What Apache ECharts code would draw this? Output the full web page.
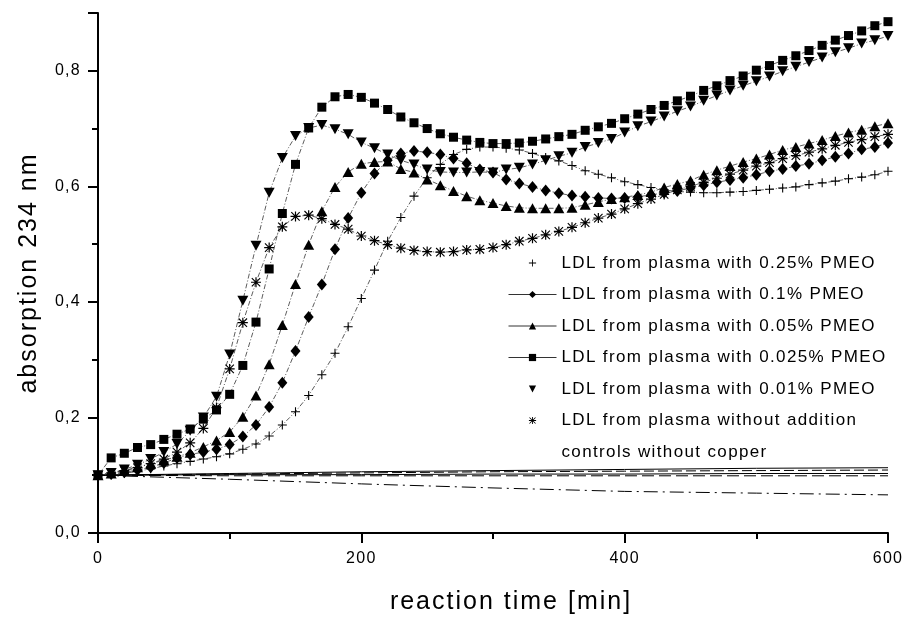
<!DOCTYPE html>
<html>
<head>
<meta charset="utf-8">
<style>html,body{margin:0;padding:0;background:#fff;}#chart{width:913px;height:621px;}</style>
<script src="https://cdn.jsdelivr.net/npm/echarts@6/dist/echarts.min.js"></script>
</head>
<body>
<div id="chart"></div>
<script>
// reaction time [min], one reading every 10 min
var time = [0, 10, 20, 30, 40, 50, 60, 70, 80, 90, 100, 110, 120, 130, 140, 150, 160, 170, 180, 190,
  200, 210, 220, 230, 240, 250, 260, 270, 280, 290, 300, 310, 320, 330, 340, 350, 360, 370, 380, 390,
  400, 410, 420, 430, 440, 450, 460, 470, 480, 490, 500, 510, 520, 530, 540, 550, 560, 570, 580, 590, 600];

var pmeo025 = [0.100, 0.101, 0.103, 0.107, 0.111, 0.116, 0.120, 0.124, 0.128, 0.132, 0.137, 0.145, 0.154, 0.168, 0.187, 0.210, 0.238, 0.274, 0.311, 0.357,
  0.406, 0.455, 0.505, 0.546, 0.583, 0.615, 0.638, 0.655, 0.664, 0.668, 0.668, 0.666, 0.663, 0.657, 0.650, 0.644, 0.636, 0.627, 0.621, 0.615,
  0.608, 0.603, 0.598, 0.594, 0.591, 0.590, 0.589, 0.589, 0.590, 0.591, 0.593, 0.595, 0.597, 0.599, 0.603, 0.606, 0.609, 0.613, 0.616, 0.620, 0.626];

var pmeo01 = [0.100, 0.102, 0.105, 0.109, 0.114, 0.121, 0.130, 0.136, 0.140, 0.145, 0.153, 0.167, 0.187, 0.218, 0.260, 0.315, 0.374, 0.430, 0.491, 0.545,
  0.589, 0.622, 0.645, 0.657, 0.661, 0.659, 0.655, 0.648, 0.640, 0.629, 0.624, 0.612, 0.605, 0.599, 0.593, 0.588, 0.584, 0.582, 0.580, 0.579,
  0.580, 0.582, 0.585, 0.589, 0.592, 0.597, 0.602, 0.607, 0.611, 0.615, 0.620, 0.626, 0.630, 0.635, 0.639, 0.645, 0.651, 0.657, 0.664, 0.668, 0.675];

var pmeo005 = [0.100, 0.103, 0.108, 0.114, 0.120, 0.126, 0.132, 0.139, 0.149, 0.160, 0.175, 0.201, 0.238, 0.292, 0.360, 0.431, 0.499, 0.557, 0.599, 0.625,
  0.639, 0.642, 0.643, 0.630, 0.624, 0.612, 0.602, 0.592, 0.583, 0.576, 0.571, 0.566, 0.563, 0.562, 0.562, 0.562, 0.563, 0.568, 0.573, 0.578,
  0.581, 0.585, 0.590, 0.598, 0.604, 0.610, 0.620, 0.628, 0.635, 0.642, 0.648, 0.655, 0.663, 0.668, 0.674, 0.680, 0.687, 0.693, 0.698, 0.704, 0.709];

var pmeo0025 = [0.100, 0.130, 0.138, 0.148, 0.153, 0.162, 0.171, 0.180, 0.197, 0.213, 0.240, 0.290, 0.365, 0.457, 0.553, 0.638, 0.701, 0.737, 0.755, 0.759,
  0.754, 0.744, 0.733, 0.720, 0.710, 0.700, 0.691, 0.685, 0.680, 0.676, 0.674, 0.674, 0.675, 0.678, 0.682, 0.686, 0.690, 0.697, 0.703, 0.709,
  0.717, 0.725, 0.733, 0.740, 0.748, 0.756, 0.766, 0.774, 0.783, 0.791, 0.801, 0.809, 0.818, 0.826, 0.835, 0.844, 0.853, 0.861, 0.869, 0.878, 0.885];

var pmeo001 = [0.100, 0.104, 0.110, 0.118, 0.128, 0.140, 0.154, 0.177, 0.200, 0.236, 0.309, 0.402, 0.497, 0.589, 0.649, 0.687, 0.701, 0.706, 0.699, 0.690,
  0.676, 0.666, 0.655, 0.645, 0.638, 0.629, 0.625, 0.624, 0.624, 0.625, 0.624, 0.629, 0.632, 0.638, 0.645, 0.652, 0.658, 0.668, 0.675, 0.682,
  0.693, 0.704, 0.712, 0.721, 0.730, 0.738, 0.748, 0.757, 0.766, 0.774, 0.782, 0.790, 0.799, 0.807, 0.815, 0.823, 0.832, 0.839, 0.847, 0.853, 0.860];

var noAddition = [0.100, 0.104, 0.108, 0.113, 0.120, 0.128, 0.140, 0.156, 0.181, 0.217, 0.284, 0.364, 0.434, 0.494, 0.530, 0.548, 0.550, 0.544, 0.534, 0.526,
  0.514, 0.506, 0.499, 0.493, 0.489, 0.487, 0.486, 0.487, 0.490, 0.491, 0.494, 0.499, 0.505, 0.510, 0.516, 0.522, 0.529, 0.537, 0.545, 0.552,
  0.561, 0.570, 0.578, 0.586, 0.594, 0.600, 0.607, 0.614, 0.621, 0.628, 0.635, 0.641, 0.648, 0.653, 0.659, 0.665, 0.671, 0.676, 0.681, 0.686, 0.690];

// controls without copper
var ctrlTime = [0, 100, 200, 300, 400, 500, 600];
var ctrlA = [0.100, 0.103, 0.106, 0.108, 0.110, 0.112, 0.113];
var ctrlB = [0.100, 0.102, 0.104, 0.106, 0.107, 0.108, 0.109];
var ctrlC = [0.100, 0.101, 0.101, 0.102, 0.102, 0.103, 0.103];
var ctrlD = [0.100, 0.099, 0.099, 0.099, 0.099, 0.099, 0.099];
var ctrlE = [0.100, 0.093, 0.085, 0.078, 0.072, 0.069, 0.066];

var names = [
  'LDL from plasma with 0.25% PMEO',
  'LDL from plasma with 0.1% PMEO',
  'LDL from plasma with 0.05% PMEO',
  'LDL from plasma with 0.025% PMEO',
  'LDL from plasma with 0.01% PMEO',
  'LDL from plasma without addition',
  'controls without copper'
];

// the original was exported with a little letter tracking; canvas can do that natively
(function () {
  var proto = CanvasRenderingContext2D.prototype;
  ['fillText', 'strokeText', 'measureText'].forEach(function (fn) {
    var orig = proto[fn];
    proto[fn] = function () {
      var m = /(\d+(?:\.\d+)?)px/.exec(this.font);
      if (m && 'letterSpacing' in this) this.letterSpacing = (parseFloat(m[1]) * 0.08).toFixed(2) + 'px';
      return orig.apply(this, arguments);
    };
  });
})();

var FONT = 'Liberation Sans';
var plusPath = 'path://M4.4 0H5.6V10H4.4ZM0 4.4H10V5.6H0Z';
var starPath = 'path://M4.4 0H5.6V10H4.4ZM0 4.4H10V5.6H0ZM1.2 0.4L9.6 8.8L8.8 9.6L0.4 1.2ZM8.8 0.4L9.6 1.2L1.2 9.6L0.4 8.8Z';
var downTri = 'path://M0 0L10 0L5 9Z';

function pairs(xs, ys) {
  return xs.map(function (x, i) { return [x, ys[i]]; });
}

function markerSeries(name, values, symbol, size) {
  return {
    name: name,
    type: 'line',
    data: pairs(time, values),
    symbol: symbol,
    symbolSize: size,
    showAllSymbol: true,
    itemStyle: { color: '#000' },
    lineStyle: { color: '#333', width: 0.8, type: [5, 2, 1, 2] },
    animation: false
  };
}

function ctrlSeries(values, type, legendName) {
  return {
    name: legendName,
    type: 'line',
    data: pairs(ctrlTime, values),
    symbol: 'none',
    itemStyle: { color: '#000' },
    lineStyle: { color: '#000', width: 1, type: type },
    animation: false,
    z: 1
  };
}

var hidden = { opacity: 0 };

var option = {
  backgroundColor: '#fff',
  animation: false,
  grid: { left: 98, right: 25, top: 13, bottom: 86 },
  legend: {
    orient: 'vertical',
    left: 503,
    top: 248,
    itemWidth: 48,
    itemHeight: 9,
    itemGap: 11.5,
    selectedMode: false,
    textStyle: { fontFamily: FONT, fontSize: 17, color: '#000', lineHeight: 20 },
    lineStyle: { color: '#333', width: 1, type: 'solid' },
    data: [
      { name: names[0], lineStyle: hidden },
      { name: names[1] },
      { name: names[2] },
      { name: names[3] },
      { name: names[4], lineStyle: hidden },
      { name: names[5], lineStyle: hidden },
      { name: names[6], lineStyle: hidden, itemStyle: hidden }
    ]
  },
  xAxis: {
    type: 'value',
    min: 0,
    max: 600,
    interval: 200,
    name: 'reaction time [min]',
    nameLocation: 'middle',
    nameGap: 56,
    nameTextStyle: { fontFamily: FONT, fontSize: 25, color: '#000', padding: [0, 0, 0, 36] },
    axisLine: { lineStyle: { color: '#000', width: 2 } },
    axisTick: { length: 10, lineStyle: { color: '#000', width: 2 } },
    minorTick: { show: true, splitNumber: 2, length: 6, lineStyle: { color: '#000', width: 2 } },
    splitLine: { show: false },
    axisLabel: { fontFamily: FONT, fontSize: 16, color: '#000', margin: 17 }
  },
  yAxis: [
    {
      type: 'value',
      min: 0,
      max: 0.9,
      interval: 0.1,
      name: 'absorption 234 nm',
      nameLocation: 'middle',
      nameGap: 55,
      nameTextStyle: { fontFamily: FONT, fontSize: 25, color: '#000' },
      axisLine: { show: true, lineStyle: { color: '#000', width: 2 } },
      axisTick: { length: 6, lineStyle: { color: '#000', width: 2 } },
      splitLine: { show: false },
      axisLabel: { show: false }
    },
    {
      type: 'value',
      min: 0,
      max: 0.9,
      interval: 0.2,
      position: 'left',
      axisLine: { show: false },
      axisTick: { length: 10, lineStyle: { color: '#000', width: 2 } },
      splitLine: { show: false },
      axisLabel: {
        fontFamily: FONT, fontSize: 16, color: '#000', margin: 17,
        formatter: function (v) {
          return v > 0.85 ? '' : v.toFixed(1).replace('.', ',');
        }
      }
    }
  ],
  series: [
    ctrlSeries(ctrlA, 'solid', names[6]),
    ctrlSeries(ctrlB, [10, 4], names[6]),
    ctrlSeries(ctrlC, 'solid', names[6]),
    ctrlSeries(ctrlD, [12, 5], names[6]),
    ctrlSeries(ctrlE, [14, 5, 2, 5], names[6]),
    markerSeries(names[5], noAddition, starPath, 10),
    markerSeries(names[0], pmeo025, plusPath, 9),
    markerSeries(names[1], pmeo01, 'diamond', [10, 12]),
    markerSeries(names[2], pmeo005, 'triangle', [11, 10]),
    markerSeries(names[4], pmeo001, downTri, [11, 10]),
    markerSeries(names[3], pmeo0025, 'rect', [9, 9])
  ]
};

var chart = echarts.init(document.getElementById('chart'), null, { renderer: 'canvas' });
chart.setOption(option);
</script>
</body>
</html>
